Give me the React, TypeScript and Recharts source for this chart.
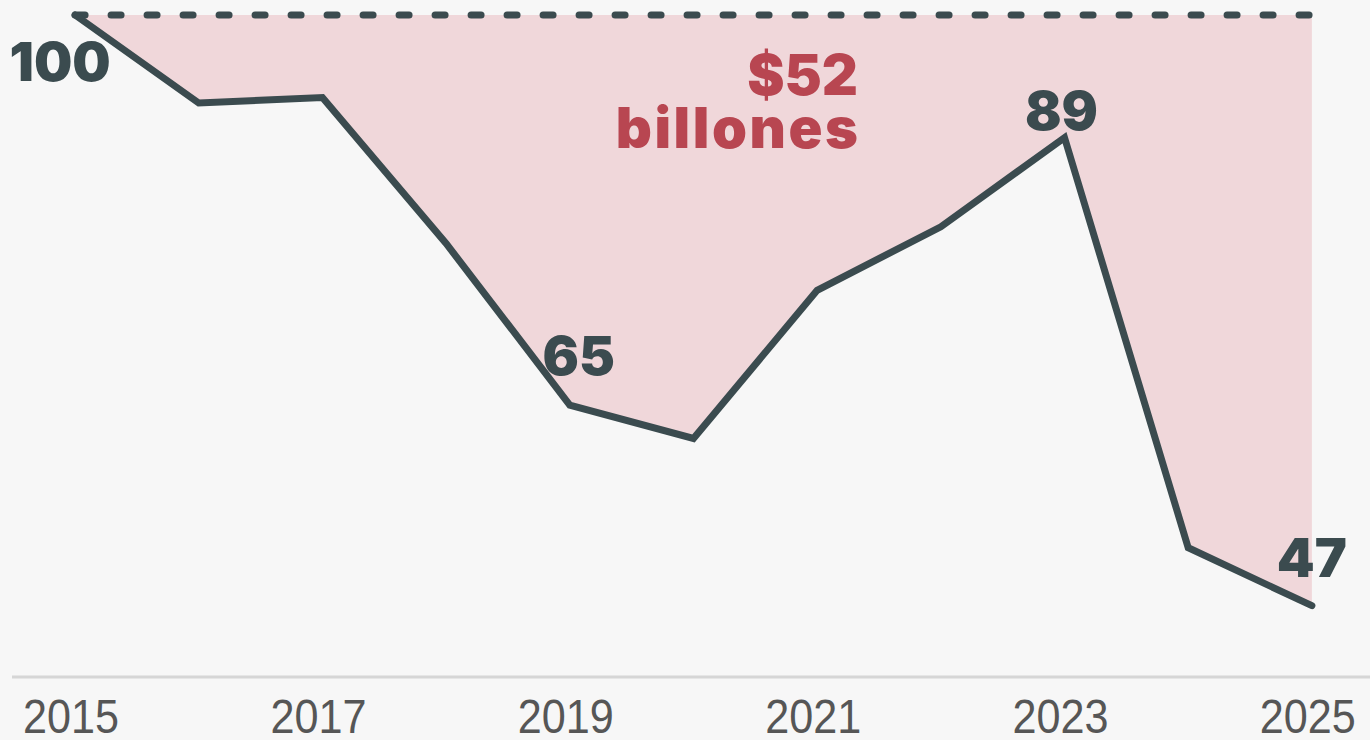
import React from 'react';
import { ComposedChart, Line, Area, XAxis, YAxis, LabelList } from 'recharts';

// índice 2015 = 100
const years = [2015, 2016, 2017, 2018, 2019, 2020, 2021, 2022, 2023, 2024, 2025];
const values = [100, 92.1, 92.6, 79.5, 65, 62.0, 75.3, 81.0, 89, 52.2, 47];
const baseline = 100;
const tickYears = [2015, 2017, 2019, 2021, 2023, 2025];
const labelledYears = [2015, 2019, 2023, 2025];
const gapLabel = ['$52', 'billones'];

const DARK = '#3b4b4f';
const RED = '#b84651';
const BOLD_FONT = 'Inter, "Noto Sans", sans-serif';

const data = years.map((year, i) => ({
  year,
  value: values[i],
  base: baseline,
  range: [values[i], baseline],
}));

const YearTick = (props: any) => {
  const { x, y, payload } = props;
  return (
    <text
      x={x - 4}
      y={y}
      dy={56}
      textAnchor="middle"
      fill="#565656"
      fontSize={49}
      textLength={96}
      lengthAdjust="spacingAndGlyphs"
      fontFamily='"Liberation Sans", Arial, sans-serif'
    >
      {payload.value}
    </text>
  );
};

// label offsets relative to the point
const labelOffset: Record<number, [number, number]> = {
  2015: [-15, 66],
  2019: [9, -30],
  2023: [-3, -8],
  2025: [0, -29],
};

const ValueLabel = (props: any) => {
  const { x, y, value, index } = props;
  const year = years[index];
  if (!labelledYears.includes(year)) return null;
  const [dx, dy] = labelOffset[year];
  return (
    <text
      x={x + dx}
      y={y + dy}
      textAnchor="middle"
      fill={DARK}
      fontSize={54}
      fontWeight={900}
      fontFamily={BOLD_FONT}
    >
      {Math.round(value)}
    </text>
  );
};

export default function App() {
  return (
    <div style={{ position: 'absolute', left: 0, top: 0, width: 1370, height: 740, background: '#f7f7f7', overflow: 'hidden' }}>
      <ComposedChart width={1370} height={740} data={data} margin={{ top: 15, right: 0, bottom: 0, left: 12 }}>
        <XAxis
          dataKey="year"
          type="number"
          domain={[2014.49, 2025.47]}
          ticks={tickYears}
          tick={<YearTick />}
          tickLine={false}
          tickSize={0}
          tickMargin={0}
          height={63}
          axisLine={{ stroke: '#d6d6d6', strokeWidth: 3 }}
          interval={0}
        />
        <YAxis hide domain={[40.6, 100]} />
        <Area dataKey="range" stroke="none" fill="#f0d7da" fillOpacity={1} isAnimationActive={false} />
        <Line
          dataKey="base"
          stroke={DARK}
          strokeWidth={7}
          strokeDasharray="10 26"
          strokeLinecap="round"
          dot={false}
          isAnimationActive={false}
        />
        <Line
          dataKey="value"
          stroke={DARK}
          strokeWidth={7}
          strokeLinecap="round"
          strokeLinejoin="miter"
          dot={false}
          isAnimationActive={false}
        >
          <LabelList dataKey="value" content={<ValueLabel />} />
        </Line>
      </ComposedChart>
      <div
        style={{
          position: 'absolute',
          left: 458,
          top: 49,
          width: 400,
          textAlign: 'right',
          color: RED,
          fontFamily: BOLD_FONT,
          fontWeight: 900,
          fontSize: 56,
          lineHeight: '53px',
        }}
      >
        {gapLabel.map((t, i) => (
          <div key={t} style={i === 1 ? { letterSpacing: 2.6, marginRight: -2.6 } : undefined}>
            {t}
          </div>
        ))}
      </div>
    </div>
  );
}
